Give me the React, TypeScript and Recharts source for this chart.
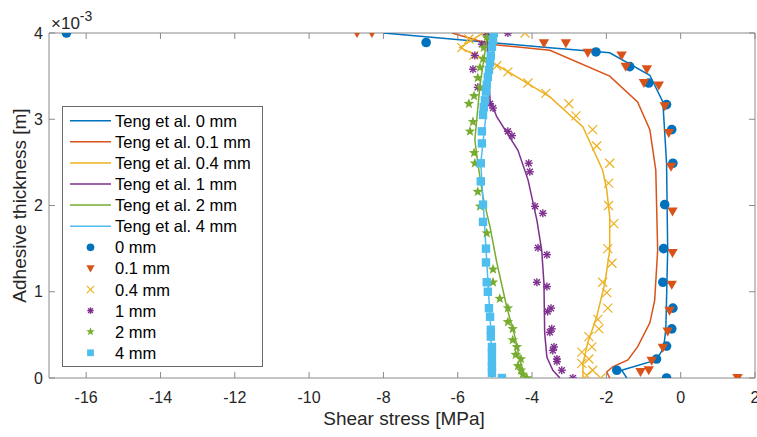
import { ScatterChart, Scatter, XAxis, YAxis } from "recharts";

const BLUE = "#0072BD";
const ORANGE = "#D95319";
const YELLOW = "#EDB120";
const PURPLE = "#7E2F8E";
const GREEN = "#77AC30";
const CYAN = "#4DBEEE";
const AXIS = "#8a8a8a";
const TEXT = "#262626";
const FONT = "'Liberation Sans', Arial, Helvetica, sans-serif";

type Pt = [number, number];

// y values are in units of 1e-3 m
const tengLine0: Pt[] = [[-8.0, 4.0], [-3.52, 3.83], [-1.91, 3.77], [-0.83, 3.51], [-0.48, 3.2], [-0.38, 2.49], [-0.35, 1.48], [-0.4, 0.56], [-0.46, 0.35], [-0.65, 0.21], [-1.59, 0.09], [-1.45, 0]];
const tengLine01: Pt[] = [[-6.15, 4.0], [-5.13, 3.87], [-3.52, 3.8], [-1.91, 3.5], [-1.16, 3.2], [-0.83, 2.88], [-0.67, 2.41], [-0.62, 1.48], [-0.7, 0.9], [-0.83, 0.64], [-1.16, 0.36], [-1.42, 0.21], [-1.83, 0.13], [-1.99, 0.07], [-1.91, 0]];
const tengLine04: Pt[] = [[-5.32, 4.0], [-5.94, 3.83], [-4.95, 3.63], [-3.52, 3.26], [-2.63, 2.91], [-2.1, 2.41], [-1.99, 2.18], [-1.91, 1.87], [-1.91, 1.48], [-2.04, 1.1], [-2.26, 0.71], [-2.5, 0.41], [-2.63, 0.17], [-2.63, 0]];
const tengLine1: Pt[] = [[-5.22, 4.0], [-5.13, 3.22], [-4.95, 3.03], [-4.6, 2.79], [-4.38, 2.64], [-4.11, 2.3], [-3.87, 1.83], [-3.74, 1.48], [-3.68, 1.1], [-3.66, 0.52], [-3.6, 0.24], [-3.44, 0.09], [-3.25, 0]];
const tengLine2: Pt[] = [[-5.19, 4.0], [-5.4, 3.4], [-5.54, 2.76], [-5.46, 2.49], [-5.32, 2.1], [-5.13, 1.75], [-4.95, 1.34], [-4.68, 0.82], [-4.46, 0.48], [-4.33, 0.21], [-4.17, 0]];
const tengLine4: Pt[] = [[-5.0, 4.0], [-5.38, 2.49], [-5.24, 1.5], [-5.11, 0.56], [-5.08, 0.07], [-5.08, 0]];

const exp0: Pt[] = [[-16.53, 4.0], [-6.85, 3.89], [-2.28, 3.78], [-1.37, 3.61], [-0.86, 3.42], [-0.38, 3.17], [-0.24, 2.88], [-0.21, 2.49], [-0.43, 2.01], [-0.46, 1.5], [-0.48, 1.11], [-0.21, 0.81], [-0.24, 0.57], [-0.38, 0.37], [-0.65, 0.22], [-1.72, 0.09], [-0.38, 0]];
const exp01: Pt[] = [[-8.71, 4.0], [-8.31, 4.0], [-3.68, 3.88], [-3.09, 3.88], [-2.5, 3.77], [-1.59, 3.74], [-1.48, 3.61], [-0.91, 3.58], [-0.99, 3.42], [-0.59, 3.39], [-0.43, 3.15], [-0.32, 2.84], [-0.26, 2.45], [-0.22, 1.93], [-0.22, 1.45], [-0.24, 1.08], [-0.3, 0.78], [-0.35, 0.54], [-0.48, 0.35], [-0.78, 0.2], [-0.86, 0.09], [-1.08, 0.07], [1.53, 0]];
const exp04: Pt[] = [[-4.19, 4.0], [-5.7, 3.93], [-5.89, 3.83], [-5.57, 3.74], [-4.95, 3.62], [-4.65, 3.55], [-4.11, 3.42], [-3.63, 3.3], [-3.01, 3.18], [-2.82, 3.04], [-2.37, 2.88], [-2.26, 2.69], [-1.91, 2.49], [-1.94, 2.26], [-1.94, 2.0], [-1.8, 1.79], [-1.96, 1.5], [-1.85, 1.33], [-2.1, 1.11], [-1.99, 0.99], [-1.96, 0.81], [-2.23, 0.68], [-2.2, 0.57], [-2.47, 0.48], [-2.39, 0.36], [-2.66, 0.3], [-2.47, 0.22], [-2.66, 0.17], [-2.37, 0.09], [-2.53, 0.03], [-2.15, 0]];
const exp1: Pt[] = [[-4.65, 4.0], [-5.22, 3.98], [-5.35, 3.87], [-5.54, 3.74], [-5.59, 3.58], [-5.46, 3.37], [-5.13, 3.18], [-5.05, 3.13], [-4.65, 2.86], [-4.54, 2.81], [-4.09, 2.49], [-4.06, 2.39], [-3.92, 1.99], [-3.71, 1.91], [-3.84, 1.51], [-3.6, 1.43], [-3.87, 1.11], [-3.6, 1.06], [-3.49, 0.81], [-3.58, 0.77], [-3.47, 0.57], [-3.52, 0.53], [-3.41, 0.36], [-3.44, 0.32], [-3.33, 0.22], [-3.33, 0.19], [-3.2, 0.09], [-2.9, 0]];
const exp2: Pt[] = [[-5.22, 3.95], [-5.3, 3.83], [-5.32, 3.7], [-5.4, 3.6], [-5.46, 3.48], [-5.4, 3.37], [-5.56, 3.27], [-5.7, 3.18], [-5.59, 2.97], [-5.67, 2.86], [-5.56, 2.61], [-5.54, 2.49], [-5.46, 2.16], [-5.4, 1.99], [-5.22, 1.68], [-5.05, 1.26], [-5.05, 1.11], [-4.87, 0.92], [-4.65, 0.81], [-4.65, 0.65], [-4.52, 0.57], [-4.52, 0.44], [-4.41, 0.36], [-4.44, 0.27], [-4.3, 0.22], [-4.38, 0.14], [-4.3, 0.09], [-4.25, 0.04], [-4.14, 0]];
const exp4: Pt[] = [[-5.03, 4.0], [-5.05, 3.92], [-5.08, 3.84], [-5.11, 3.74], [-5.13, 3.66], [-5.16, 3.57], [-5.19, 3.49], [-5.22, 3.4], [-5.24, 3.32], [-5.27, 3.22], [-5.3, 3.14], [-5.32, 3.05], [-5.35, 2.86], [-5.35, 2.72], [-5.38, 2.49], [-5.38, 2.28], [-5.32, 2.01], [-5.32, 1.81], [-5.24, 1.5], [-5.24, 1.34], [-5.22, 1.11], [-5.19, 1.0], [-5.16, 0.81], [-5.13, 0.71], [-5.11, 0.56], [-5.11, 0.48], [-5.08, 0.36], [-5.08, 0.29], [-5.08, 0.2], [-5.08, 0.13], [-5.08, 0.06], [-4.81, 0]];

const xTicks = [-16, -14, -12, -10, -8, -6, -4, -2, 0, 2];
const yTicks = [0, 1, 2, 3, 4];

const lineSeries = [
  { name: "Teng et al. 0 mm", pts: tengLine0, color: BLUE },
  { name: "Teng et al. 0.1 mm", pts: tengLine01, color: ORANGE },
  { name: "Teng et al. 0.4 mm", pts: tengLine04, color: YELLOW },
  { name: "Teng et al. 1 mm", pts: tengLine1, color: PURPLE },
  { name: "Teng et al. 2 mm", pts: tengLine2, color: GREEN },
  { name: "Teng et al. 4 mm", pts: tengLine4, color: CYAN },
];

const markerSeries = [
  { name: "0 mm", pts: exp0, color: BLUE, kind: "circle" },
  { name: "0.1 mm", pts: exp01, color: ORANGE, kind: "triangle" },
  { name: "0.4 mm", pts: exp04, color: YELLOW, kind: "cross" },
  { name: "1 mm", pts: exp1, color: PURPLE, kind: "asterisk" },
  { name: "2 mm", pts: exp2, color: GREEN, kind: "star" },
  { name: "4 mm", pts: exp4, color: CYAN, kind: "square" },
];

const toRows = (pts: Pt[]) => pts.map(([x, y]) => ({ x, y }));

const starPoints = (cx: number, cy: number, ro: number, ri: number) => {
  const out: string[] = [];
  for (let i = 0; i < 10; i++) {
    const r = i % 2 === 0 ? ro : ri;
    const a = -Math.PI / 2 + (i * Math.PI) / 5;
    out.push(`${cx + r * Math.cos(a)},${cy + r * Math.sin(a)}`);
  }
  return out.join(" ");
};

const Marker = ({ cx, cy, kind, color, s = 1 }: any) => {
  if (cx == null || cy == null) return <g />;
  switch (kind) {
    case "circle":
      return <circle cx={cx} cy={cy} r={4.8 * s} fill={color} />;
    case "triangle":
      return <polygon points={`${cx - 5.2 * s},${cy - 4 * s} ${cx + 5.2 * s},${cy - 4 * s} ${cx},${cy + 5 * s}`} fill={color} />;
    case "cross":
      return (
        <g stroke={color} strokeWidth={1.2}>
          <line x1={cx - 4.5 * s} y1={cy - 4.5 * s} x2={cx + 4.5 * s} y2={cy + 4.5 * s} />
          <line x1={cx - 4.5 * s} y1={cy + 4.5 * s} x2={cx + 4.5 * s} y2={cy - 4.5 * s} />
        </g>
      );
    case "asterisk":
      return (
        <g stroke={color} strokeWidth={1.4}>
          <line x1={cx - 4 * s} y1={cy} x2={cx + 4 * s} y2={cy} />
          <line x1={cx} y1={cy - 4 * s} x2={cx} y2={cy + 4 * s} />
          <line x1={cx - 3 * s} y1={cy - 3 * s} x2={cx + 3 * s} y2={cy + 3 * s} />
          <line x1={cx - 3 * s} y1={cy + 3 * s} x2={cx + 3 * s} y2={cy - 3 * s} />
        </g>
      );
    case "star":
      return <polygon points={starPoints(cx, cy, 5.5 * s, 2.3 * s)} fill={color} />;
    default:
      return <rect x={cx - 4.2 * s} y={cy - 4.2 * s} width={8.4 * s} height={8.4 * s} fill={color} />;
  }
};

const BottomTick = ({ x, y, payload }: any) => (
  <g>
    <line x1={x} y1={y} x2={x} y2={y - 6} stroke={AXIS} />
    <text x={x} y={y + 19} textAnchor="middle" dominantBaseline="central" fill={TEXT} fontSize={16} fontFamily={FONT}>
      {payload.value}
    </text>
  </g>
);

const LeftTick = ({ x, y, payload }: any) => (
  <g>
    <line x1={x} y1={y} x2={x + 6} y2={y} stroke={AXIS} />
    <text x={x - 6} y={y} textAnchor="end" dominantBaseline="central" fill={TEXT} fontSize={16} fontFamily={FONT}>
      {payload.value}
    </text>
  </g>
);

const TopTick = ({ x, y }: any) => <line x1={x} y1={y} x2={x} y2={y + 6} stroke={AXIS} />;
const RightTick = ({ x, y }: any) => <line x1={x} y1={y} x2={x - 6} y2={y} stroke={AXIS} />;

const Legend = () => {
  const rowY = (i: number) => 120.7 + i * 21.1;
  return (
    <g fontFamily={FONT} fontSize={16.5} fill="#000">
      <rect x={62.5} y={106.5} width={200} height={260} fill="#fff" stroke="#6a6a6a" strokeWidth={1} />
      {lineSeries.map((s, i) => (
        <g key={s.name}>
          <line x1={70} y1={rowY(i)} x2={111} y2={rowY(i)} stroke={s.color} strokeWidth={1.5} />
          <text x={115} y={rowY(i)} dominantBaseline="central">{s.name}</text>
        </g>
      ))}
      {markerSeries.map((s, i) => (
        <g key={s.name}>
          <Marker cx={90.5} cy={rowY(i + 6)} kind={s.kind} color={s.color} s={0.8} />
          <text x={115} y={rowY(i + 6)} dominantBaseline="central">{s.name}</text>
        </g>
      ))}
    </g>
  );
};

export default function App() {
  return (
    <div style={{ position: "absolute", left: 0, top: 0, width: 757, height: 437, background: "#fff" }}>
      <ScatterChart width={757} height={437} margin={{ top: 3, right: 0, bottom: 0, left: 0 }}>
        <XAxis
          dataKey="x"
          type="number"
          domain={[-17, 2]}
          ticks={xTicks}
          interval={0}
          allowDataOverflow
          height={59}
          tickSize={0}
          tickMargin={0}
          tickLine={false}
          axisLine={{ stroke: AXIS }}
          tick={<BottomTick />}
        />
        <XAxis
          xAxisId="top"
          orientation="top"
          dataKey="x"
          type="number"
          domain={[-17, 2]}
          ticks={xTicks}
          interval={0}
          allowDataOverflow
          height={30}
          tickSize={0}
          tickMargin={0}
          tickLine={false}
          axisLine={{ stroke: AXIS }}
          tick={<TopTick />}
        />
        <YAxis
          dataKey="y"
          type="number"
          domain={[0, 4]}
          ticks={yTicks}
          interval={0}
          allowDataOverflow
          width={49}
          tickSize={0}
          tickMargin={0}
          tickLine={false}
          axisLine={{ stroke: AXIS }}
          tick={<LeftTick />}
        />
        <YAxis
          yAxisId="right"
          orientation="right"
          dataKey="y"
          type="number"
          domain={[0, 4]}
          ticks={yTicks}
          interval={0}
          allowDataOverflow
          width={2}
          tickSize={0}
          tickMargin={0}
          tickLine={false}
          axisLine={{ stroke: AXIS }}
          tick={<RightTick />}
        />
        {lineSeries.map((s) => (
          <Scatter
            key={s.name}
            name={s.name}
            data={toRows(s.pts)}
            line={{ stroke: s.color, strokeWidth: 1.5 }}
            lineJointType="linear"
            shape={() => <g />}
            isAnimationActive={false}
          />
        ))}
        {markerSeries.map((s) => (
          <Scatter
            key={s.name}
            name={s.name}
            data={toRows(s.pts)}
            shape={(p: any) => <Marker cx={p.cx} cy={p.cy} kind={s.kind} color={s.color} />}
            isAnimationActive={false}
          />
        ))}
      </ScatterChart>
      <svg width={757} height={437} style={{ position: "absolute", left: 0, top: 0, pointerEvents: "none" }}>
        <Legend />
        <text x={51} y={29} fill={TEXT} fontSize={17} fontFamily={FONT}>
          ×10
          <tspan dy={-8} fontSize={14}>-3</tspan>
        </text>
        <text x={404} y={418} textAnchor="middle" dominantBaseline="central" fill={TEXT} fontSize={19} fontFamily={FONT}>
          Shear stress [MPa]
        </text>
        <text transform="translate(19,205.5) rotate(-90)" textAnchor="middle" dominantBaseline="central" fill={TEXT} fontSize={19} fontFamily={FONT}>
          Adhesive thickness [m]
        </text>
      </svg>
    </div>
  );
}
